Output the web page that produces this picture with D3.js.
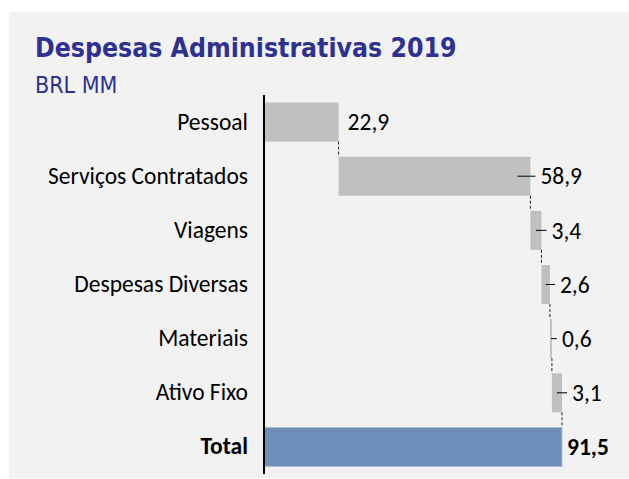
<!DOCTYPE html>
<html>
<head>
<meta charset="utf-8">
<script src="https://cdn.jsdelivr.net/npm/d3@7"></script>
<style>
  html, body { margin: 0; padding: 0; background: #ffffff; }
  svg { display: block; }
</style>
</head>
<body>
<script>
// ---- Data ----
const title = "Despesas Administrativas 2019";
const subtitle = "BRL MM";
const categories = ["Pessoal", "Serviços Contratados", "Viagens", "Despesas Diversas", "Materiais", "Ativo Fixo"];
const values = [22.9, 58.9, 3.4, 2.6, 0.6, 3.1];
const totalLabel = "Total";
const totalValue = 91.5;

// ---- Layout ----
const W = 629, H = 479;
const fmt = v => d3.format(".1f")(v).replace(".", ",");

const svg = d3.select("body").append("svg").attr("width", W).attr("height", H);

svg.append("rect").attr("x", 9).attr("y", 12).attr("width", W - 9).attr("height", 466).attr("fill", "#f2f2f2");

svg.append("text").attr("x", 35).attr("y", 57)
  .attr("font-family", "'DejaVu Sans Condensed', 'DejaVu Sans'").attr("font-stretch", "condensed")
  .attr("font-weight", "bold").attr("font-size", 26.4)
  .attr("fill", "#2e3192").text(title);
svg.append("text").attr("x", 35).attr("y", 93)
  .attr("font-family", "'DejaVu Sans Condensed', 'DejaVu Sans'").attr("font-stretch", "condensed")
  .attr("font-size", 23)
  .attr("fill", "#2e3192").text(subtitle);

const allCats = categories.concat([totalLabel]);
const y = d3.scaleBand().domain(allCats).range([95, 474]).paddingInner(0.28).paddingOuter(0.14);
const x = d3.scaleLinear().domain([0, totalValue]).range([264, 562]);

// cumulative
let cum = 0;
const rows = categories.map((c, i) => {
  const start = cum; cum += values[i];
  return { cat: c, v: values[i], x0: start, x1: cum, total: false, i };
});
rows.push({ cat: totalLabel, v: totalValue, x0: 0, x1: totalValue, total: true, i: categories.length });

const labelFont = "Carlito, Lato, sans-serif";
const fs = 23.5;

// bars
svg.selectAll("rect.bar").data(rows).enter().append("rect")
  .attr("x", d => x(d.x0))
  .attr("y", d => y(d.cat))
  .attr("width", d => Math.max(1.5, x(d.x1) - x(d.x0)))
  .attr("height", y.bandwidth())
  .attr("fill", d => d.total ? "#6f8fba" : "#c0c0c0")
  .attr("stroke", d => d.total ? "#a9bcd6" : "none")
  .attr("stroke-width", 0.8);

// connectors
for (let k = 0; k < rows.length - 1; k++) {
  const xc = x(rows[k].x1);
  svg.append("line")
    .attr("x1", xc).attr("x2", xc)
    .attr("y1", y(rows[k].cat) + y.bandwidth())
    .attr("y2", y(rows[k + 1].cat))
    .attr("stroke", "#222").attr("stroke-width", 1).attr("stroke-dasharray", "3,2");
}

// leader lines
rows.forEach(d => {
  if (d.total || d.i === 0) return;
  const xe = x(d.x1), xs = x(d.x0);
  const start = Math.max((xs + xe) / 2, xe - 13);
  svg.append("line")
    .attr("x1", start).attr("x2", xe + 5)
    .attr("y1", y(d.cat) + y.bandwidth() / 2).attr("y2", y(d.cat) + y.bandwidth() / 2)
    .attr("stroke", "#000").attr("stroke-width", 1);
});

// value labels
svg.selectAll("text.val").data(rows).enter().append("text")
  .attr("x", d => x(d.x1) + (d.total ? 5 : (d.i === 0 ? 9 : 10)))
  .attr("y", d => y(d.cat) + y.bandwidth() / 2)
  .attr("dy", "0.35em")
  .attr("font-family", labelFont).attr("font-size", fs)
  .attr("font-weight", d => d.total ? "bold" : "normal")
  .attr("fill", "#000")
  .text(d => fmt(d.v));

// category axis
const axis = svg.append("g").attr("transform", "translate(264,0)")
  .call(d3.axisLeft(y).tickSize(0).tickPadding(16));
axis.select(".domain").remove();
axis.selectAll("text")
  .attr("font-family", labelFont).attr("font-size", fs).attr("fill", "#000")
  .attr("font-weight", d => d === totalLabel ? "bold" : "normal");
svg.append("line").attr("x1", 264).attr("x2", 264).attr("y1", 95).attr("y2", 474)
  .attr("stroke", "#000").attr("stroke-width", 2);
</script>
</body>
</html>
